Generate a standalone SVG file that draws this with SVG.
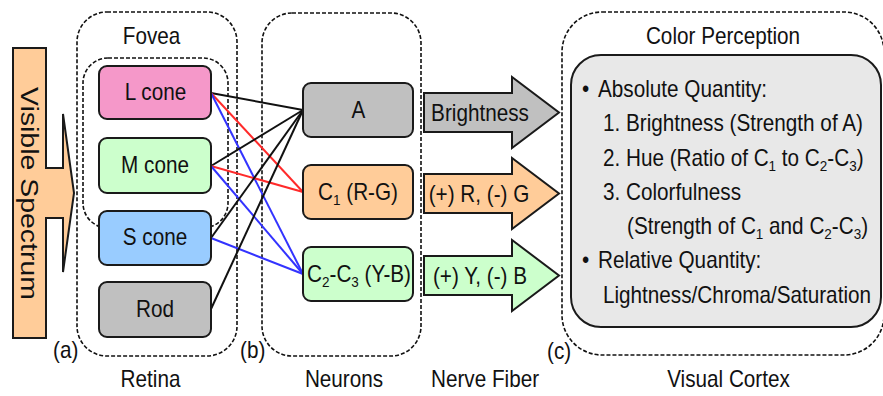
<svg xmlns="http://www.w3.org/2000/svg" width="883" height="396" viewBox="0 0 883 396">
  <style>
    text { font-family: "Liberation Sans", Arial, sans-serif; font-size: 23px; fill: #111; }
    .sub { font-size: 15px; }
    .region { fill: none; stroke: #111; stroke-width: 1.6; stroke-dasharray: 4 2; }
    .box { stroke: #1a1a1a; stroke-width: 2; }
    .arrow { stroke: #1a1a1a; stroke-width: 2; stroke-linejoin: miter; }
    .wire { fill: none; stroke-width: 2; }
    .k { stroke: #111; }
    .r { stroke: #ff2a2a; }
    .b { stroke: #3333ff; }
    .gray { fill: #c0c0c0; }
    .orange { fill: #ffcc99; }
    .green { fill: #ccffcc; }
    .pink { fill: #f598c9; }
    .blue { fill: #99ccff; }
  </style>

  <!-- incoming light -->
  <g id="visible-spectrum">
    <path class="arrow orange" d="M13,48 H46 V168 H63 V114 L74,193 L63,272 V218 H46 V338 H13 Z"/>
    <text transform="translate(21 87) rotate(90)" textLength="213" lengthAdjust="spacingAndGlyphs">Visible Spectrum</text>
  </g>

  <!-- dashed regions -->
  <g id="retina">
    <rect class="region" x="77" y="12" width="160" height="344" rx="30"/>
    <text transform="translate(150.5 387) scale(0.9 1)" text-anchor="middle">Retina</text>
    <text transform="translate(53 358) scale(0.9 1)">(a)</text>
  </g>
  <g id="fovea">
    <rect class="region" x="83" y="58" width="145" height="170" rx="25"/>
    <text transform="translate(151.5 44) scale(0.9 1)" text-anchor="middle">Fovea</text>
  </g>
  <g id="neurons">
    <rect class="region" x="262" y="13" width="159" height="343" rx="30"/>
    <text transform="translate(344 387) scale(0.9 1)" text-anchor="middle">Neurons</text>
    <text transform="translate(240 358) scale(0.9 1)">(b)</text>
  </g>
  <g id="nerve-fiber-label">
    <text transform="translate(485 387) scale(0.9 1)" text-anchor="middle">Nerve Fiber</text>
  </g>
  <g id="visual-cortex">
    <rect class="region" x="562" y="12" width="322" height="343" rx="40"/>
    <text transform="translate(728.5 387) scale(0.9 1)" text-anchor="middle">Visual Cortex</text>
    <text transform="translate(547 359) scale(0.9 1)">(c)</text>
  </g>

  <!-- receptor to neuron wiring -->
  <g id="connectors">
    <line class="wire k" x1="211" y1="93" x2="303" y2="110"/>
    <line class="wire r" x1="211" y1="93" x2="303" y2="192"/>
    <line class="wire b" x1="211" y1="93" x2="303" y2="274"/>
    <line class="wire k" x1="211" y1="166" x2="303" y2="110"/>
    <line class="wire r" x1="211" y1="166" x2="303" y2="192"/>
    <line class="wire b" x1="211" y1="166" x2="303" y2="274"/>
    <line class="wire k" x1="211" y1="238" x2="303" y2="110"/>
    <line class="wire b" x1="211" y1="238" x2="303" y2="274"/>
    <line class="wire k" x1="211" y1="309" x2="303" y2="110"/>
  </g>

  <!-- receptors -->
  <g id="l-cone">
    <rect class="box pink" x="99" y="66" width="112" height="53" rx="8"/>
    <text transform="translate(155.5 100) scale(0.9 1)" text-anchor="middle">L cone</text>
  </g>
  <g id="m-cone">
    <rect class="box green" x="99" y="138" width="112" height="55" rx="8"/>
    <text transform="translate(155 173) scale(0.9 1)" text-anchor="middle">M cone</text>
  </g>
  <g id="s-cone">
    <rect class="box blue" x="99" y="211" width="112" height="54" rx="8"/>
    <text transform="translate(155 245) scale(0.9 1)" text-anchor="middle">S cone</text>
  </g>
  <g id="rod">
    <rect class="box gray" x="99" y="282" width="112" height="55" rx="8"/>
    <text transform="translate(155 317) scale(0.9 1)" text-anchor="middle">Rod</text>
  </g>

  <!-- opponent channels -->
  <g id="neuron-a">
    <rect class="box gray" x="303" y="83" width="110" height="54" rx="8"/>
    <text transform="translate(358.5 118) scale(0.9 1)" text-anchor="middle">A</text>
  </g>
  <g id="neuron-c1">
    <rect class="box orange" x="303" y="165" width="110" height="54" rx="8"/>
    <text transform="translate(358 200) scale(0.9 1)" text-anchor="middle">C<tspan class="sub" dy="5">1</tspan><tspan dy="-5"> (R-G)</tspan></text>
  </g>
  <g id="neuron-c2c3">
    <rect class="box green" x="303" y="247" width="110" height="54" rx="8"/>
    <text transform="translate(359 282) scale(0.9 1)" text-anchor="middle">C<tspan class="sub" dy="5">2</tspan><tspan dy="-5">-C</tspan><tspan class="sub" dy="5">3</tspan><tspan dy="-5"> (Y-B)</tspan></text>
  </g>

  <!-- nerve fiber signals -->
  <g id="signal-brightness">
    <path class="arrow gray" d="M424,93 H512 V77 L559,112.5 L512,148 V132 H424 Z"/>
    <text transform="translate(480 121) scale(0.9 1)" text-anchor="middle">Brightness</text>
  </g>
  <g id="signal-rg">
    <path class="arrow orange" d="M424,174 H512 V158 L559,193.5 L512,229 V213 H424 Z"/>
    <text transform="translate(479 202) scale(0.9 1)" text-anchor="middle">(+) R, (-) G</text>
  </g>
  <g id="signal-yb">
    <path class="arrow green" d="M424,256 H512 V240 L559,275.5 L512,311 V295 H424 Z"/>
    <text transform="translate(480 284) scale(0.9 1)" text-anchor="middle">(+) Y, (-) B</text>
  </g>

  <!-- perception summary -->
  <g id="color-perception">
    <text transform="translate(723 44) scale(0.9 1)" text-anchor="middle">Color Perception</text>
    <rect class="box" fill="#e8e8e8" x="571" y="55" width="310" height="272" rx="30"/>
    <g transform="translate(582 0) scale(0.9 1)">
      <text y="97"><tspan x="0">•</tspan><tspan x="17.8">Absolute Quantity:</tspan></text>
      <text x="23.3" y="131">1. Brightness (Strength of A)</text>
      <text x="23.3" y="166">2. Hue (Ratio of C<tspan class="sub" dy="5">1</tspan><tspan dy="-5"> to C</tspan><tspan class="sub" dy="5">2</tspan><tspan dy="-5">-C</tspan><tspan class="sub" dy="5">3</tspan><tspan dy="-5">)</tspan></text>
      <text x="23.3" y="200">3. Colorfulness</text>
      <text x="50" y="234">(Strength of C<tspan class="sub" dy="5">1</tspan><tspan dy="-5"> and C</tspan><tspan class="sub" dy="5">2</tspan><tspan dy="-5">-C</tspan><tspan class="sub" dy="5">3</tspan><tspan dy="-5">)</tspan></text>
      <text y="268"><tspan x="0">•</tspan><tspan x="17.8">Relative Quantity:</tspan></text>
      <text x="23.3" y="303">Lightness/Chroma/Saturation</text>
    </g>
  </g>
</svg>
